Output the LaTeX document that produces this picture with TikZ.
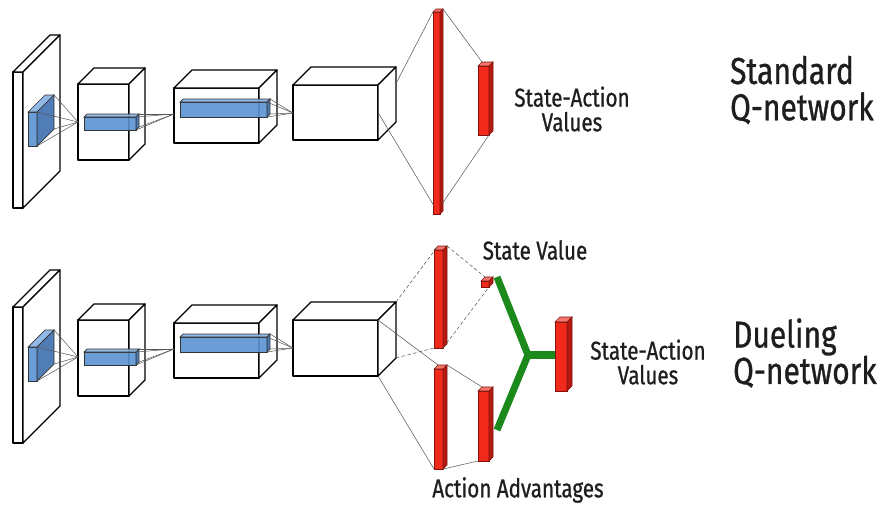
\documentclass[tikz,border=0pt]{standalone}
\usepackage{fontspec}
\setmainfont{Fira Sans}[FakeStretch=0.8, FakeBold=0.8]
\usepackage{tikz}
\usetikzlibrary{calc, positioning}
\definecolor{layerblue}{HTML}{5B93D3}
\definecolor{layerbluetop}{HTML}{86B2E4}
\definecolor{layerblueside}{HTML}{3E6FAE}
\definecolor{unitred}{HTML}{F22A1C}
\definecolor{unitredtop}{HTML}{F7766B}
\definecolor{unitredside}{HTML}{B51A10}
\definecolor{mergegreen}{HTML}{1B8A1B}
\definecolor{labelgray}{HTML}{1E1E1E}

\tikzset{
  wire/.style={draw=black, fill=white, line width=1.1pt, line join=round},
  bluefront/.style={draw=black!80, fill=layerblue, line width=0.6pt, fill opacity=0.9},
  bluetop/.style={draw=black!80, fill=layerbluetop, line width=0.6pt, fill opacity=0.9},
  blueside/.style={draw=black!80, fill=layerblueside, line width=0.6pt, fill opacity=0.9},
  redfront/.style={draw=unitredside!70!black, fill=unitred, line width=0.5pt},
  redtop/.style={draw=unitredside!70!black, fill=unitredtop, line width=0.5pt},
  redside/.style={draw=unitredside!70!black, fill=unitredside, line width=0.5pt},
  link/.style={draw=black!65, line width=0.45pt},
  dashlink/.style={link, dash pattern=on 3pt off 2pt},
  merge/.style={draw=mergegreen, line width=6pt, line join=miter},
  smalltext/.style={labelgray, align=center, font=\fontsize{22}{21}\selectfont},
  bigtext/.style={labelgray, align=left, anchor=west, font=\fontsize{32}{31}\selectfont}
}

% name, x, y, width, height, depth, front, top, side
\newcommand{\drawbox}[9]{%
  \coordinate (#1-ftl) at (#2,#3);
  \coordinate (#1-ftr) at ({#2+#4},#3);
  \coordinate (#1-fbr) at ({#2+#4},{#3+#5});
  \coordinate (#1-fbl) at (#2,{#3+#5});
  \coordinate (#1-btl) at ({#2+#6},{#3-#6});
  \coordinate (#1-btr) at ({#2+#4+#6},{#3-#6});
  \coordinate (#1-bbr) at ({#2+#4+#6},{#3+#5-#6});
  \path[#7] (#1-ftl) rectangle (#1-fbr);
  \path[#8] (#1-ftl) -- (#1-btl) -- (#1-btr) -- (#1-ftr) -- cycle;
  \path[#9] (#1-ftr) -- (#1-btr) -- (#1-bbr) -- (#1-fbr) -- cycle;
}

\begin{document}
\begin{tikzpicture}[x=0.03cm, y=-0.03cm]
  \fill[white] (0,0) rectangle (881,504);
  \useasboundingbox (0,0) rectangle (881,504);

  % standard network
  \drawbox{timg}{13}{72}{10}{136}{37}{wire}{wire}{wire}
  \drawbox{tpatch}{28}{112}{9}{34}{17}{bluefront}{bluetop}{blueside}
  \drawbox{tconva}{78}{84}{51}{76}{16}{wire}{wire}{wire}
  \drawbox{tbara}{84}{117}{52}{13}{3}{bluefront}{bluetop}{blueside}
  \drawbox{tconvb}{174}{88}{85}{55}{18}{wire}{wire}{wire}
  \drawbox{tbarb}{180}{102}{87}{15}{3}{bluefront}{bluetop}{blueside}
  \drawbox{tconvc}{293}{85}{85}{55}{18}{wire}{wire}{wire}
  \drawbox{tfc}{433}{12}{7}{202}{3}{redfront}{redtop}{redside}
  \drawbox{tout}{478}{66}{11}{69}{4}{redfront}{redtop}{redside}

  \coordinate (tina) at (78,122);
  \coordinate (tinb) at (174,114);
  \coordinate (tinc) at (293,113);
  \foreach \c in {ftr,fbr,btr,bbr} {
    \draw[link] (tpatch-\c) -- (tina);
    \draw[link] (tbara-\c) -- (tinb);
    \draw[link] (tbarb-\c) -- (tinc);
  }
  \draw[link] ($(tconvc-btr)!0.3!(tconvc-bbr)$) -- (tfc-ftl);
  \draw[link] ($(tconvc-ftr)!0.5!(tconvc-fbr)$) -- ($(tfc-fbl)+(1,-8)$);
  \draw[link] (tfc-btr) -- (tout-btl);
  \draw[link] ($(tfc-fbr)+(2,-10)$) -- (tout-fbr);

  \node[smalltext] (tqlabel) at (572,109) {State-Action\\Values};
  \node[bigtext] (tname) at (726,90) {Standard\\Q-network};

  % dueling network
  \drawbox{bimg}{13}{307}{10}{136}{37}{wire}{wire}{wire}
  \drawbox{bpatch}{28}{347}{9}{34}{17}{bluefront}{bluetop}{blueside}
  \drawbox{bconva}{78}{320}{51}{76}{16}{wire}{wire}{wire}
  \drawbox{bbara}{84}{352}{52}{13}{3}{bluefront}{bluetop}{blueside}
  \drawbox{bconvb}{174}{323}{85}{55}{18}{wire}{wire}{wire}
  \drawbox{bbarb}{180}{337}{87}{15}{3}{bluefront}{bluetop}{blueside}
  \drawbox{bconvc}{293}{320}{85}{56}{18}{wire}{wire}{wire}
  \drawbox{bvfc}{434}{250}{9}{98}{4}{redfront}{redtop}{redside}
  \drawbox{bafc}{434}{369}{9}{100}{4}{redfront}{redtop}{redside}
  \drawbox{bval}{481}{281}{8}{6}{4}{redfront}{redtop}{redside}
  \drawbox{badv}{478}{391}{11}{70}{4}{redfront}{redtop}{redside}
  \drawbox{bout}{555}{322}{12}{69}{5}{redfront}{redtop}{redside}

  \coordinate (bina) at (78,357);
  \coordinate (binb) at (174,349);
  \coordinate (binc) at (293,348);
  \foreach \c in {ftr,fbr,btr,bbr} {
    \draw[link] (bpatch-\c) -- (bina);
    \draw[link] (bbara-\c) -- (binb);
    \draw[link] (bbarb-\c) -- (binc);
  }
  \draw[dashlink] (bconvc-btr) -- (bvfc-btl);
  \draw[dashlink] (bconvc-bbr) -- (bvfc-fbl);
  \draw[dashlink] (bvfc-btr) -- (bval-btl);
  \draw[dashlink] (bvfc-fbr) -- (bval-fbr);
  \draw[link] (bconvc-ftr) -- (bafc-btl);
  \draw[link] (bconvc-fbr) -- (bafc-fbl);
  \draw[link] (bafc-btr) -- (badv-btl);
  \draw[link] (bafc-fbr) -- (badv-fbl);

  \coordinate (bjoin) at (528,355);
  \coordinate (bvalend) at (497,277);
  \coordinate (badvend) at (497,430);
  \draw[merge] (bvalend) -- (bjoin) -- (badvend);
  \draw[merge] (bjoin) -- (bout-ftl |- bjoin);

  \node[smalltext] (bvlabel) at (535,250) {State Value};
  \node[smalltext] (balabel) at (518,490) {Action Advantages};
  \node[smalltext] (bqlabel) at (648,362) {State-Action\\Values};
  \node[bigtext] (bname) at (729,353) {Dueling\\Q-network};
\end{tikzpicture}
\end{document}
